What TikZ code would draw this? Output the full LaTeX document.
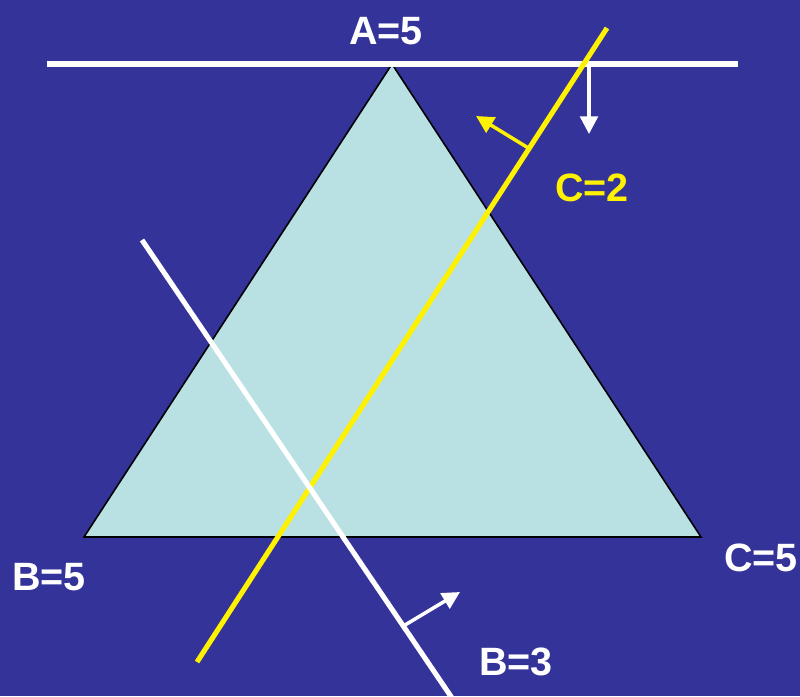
\documentclass[tikz,border=0pt]{standalone}
\usepackage{fontspec}
\setmainfont{Liberation Sans}
\usetikzlibrary{arrows.meta}
\definecolor{bgblue}{HTML}{333399}
\definecolor{trifill}{HTML}{B9E0E3}
\tikzstyle{label} = [font=\bfseries\fontsize{22.5}{26}\selectfont, text=white, inner sep=0pt]
\tikzstyle{wline} = [white, line width=2.9pt]
\tikzstyle{yline} = [yellow, line width=2.9pt]
\tikzstyle{arrow} = [line width=2pt, -{Triangle[length=10pt, width=10pt]}]

\begin{document}
\begin{tikzpicture}[x=0.02cm, y=-0.02cm]
      \fill[bgblue] (0,0) rectangle (800,696);
      \useasboundingbox (0,0) rectangle (800,696);
      % the triangle
      \coordinate (a) at (392,64);
      \coordinate (b) at (84,537);
      \coordinate (c) at (701,537);
      \draw[fill=trifill, draw=black, line width=0.9pt] (a)--(b)--(c)--cycle;
      % line ends
      \coordinate (t1) at (47,64);
      \coordinate (t2) at (738,64);
      \coordinate (y1) at (197,662);
      \coordinate (y2) at (607,28);
      \coordinate (w1) at (142,240);
      \coordinate (w2) at (452,698);
      \draw[wline](t1)--(t2);
      \draw[yline](y1)--(y2);
      \draw[wline](w1)--(w2);
      % normals
      \coordinate (n1) at (589,64);
      \coordinate (n2) at (589,134);
      \coordinate (n3) at (530,149);
      \coordinate (n4) at (476,116);
      \coordinate (n5) at (405,625);
      \coordinate (n6) at (460,592);
      \draw[arrow, white](n1)--(n2);
      \draw[arrow, yellow](n3)--(n4);
      \draw[arrow, white](n5)--(n6);
      % labels
      \node (la)[label] at (386,31) {A=5};
      \node (lb)[label] at (49,577) {B=5};
      \node (lc)[label] at (761,558) {C=5};
      \node (lc2)[label, text=yellow] at (592,188) {C=2};
      \node (lb2)[label] at (516,662) {B=3};
    \end{tikzpicture}
\end{document}
